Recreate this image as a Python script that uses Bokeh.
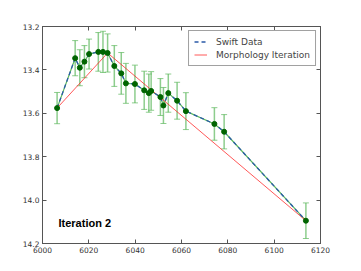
from bokeh.plotting import figure
from bokeh.models import Range1d, LinearAxis, Label, Legend, LegendItem, ColumnDataSource, FixedTicker
from bokeh.embed import file_html
from bokeh.resources import INLINE

# data
x = [6006.3, 6014.1, 6016.1, 6018.1, 6020.1, 6024.1, 6026.1, 6028.1, 6031.0, 6034.0,
     6036.0, 6039.9, 6043.9, 6045.9, 6046.9, 6050.9, 6052.2, 6054.3, 6058.1, 6061.9,
     6074.2, 6078.4, 6113.7]
mag = [13.576, 13.346, 13.390, 13.362, 13.327, 13.317, 13.317, 13.322, 13.382, 13.416,
       13.462, 13.465, 13.494, 13.507, 13.497, 13.525, 13.564, 13.507, 13.542, 13.590,
       13.649, 13.685, 14.095]
err = [0.072, 0.081, 0.083, 0.074, 0.069, 0.089, 0.095, 0.088, 0.094, 0.096,
       0.092, 0.087, 0.088, 0.088, 0.089, 0.085, 0.083, 0.088, 0.085, 0.085,
       0.075, 0.079, 0.082]
morph_x = [6006.3, 6028.1, 6113.7]
morph_y = [13.576, 13.322, 14.095]
x_ticks = [6000, 6020, 6040, 6060, 6080, 6100, 6120]
y_ticks = [13.2, 13.4, 13.6, 13.8, 14.0, 14.2]

lo = [m - e for m, e in zip(mag, err)]
hi = [m + e for m, e in zip(mag, err)]
src = ColumnDataSource(dict(x=x, mag=mag, lo=lo, hi=hi))

p = figure(width=349, height=262, output_backend="svg", toolbar_location=None,
           x_range=Range1d(6000, 6120), y_range=Range1d(14.2, 13.2),
           min_border_left=42, min_border_right=29, min_border_top=26, min_border_bottom=19)
p.background_fill_color = "white"
p.border_fill_color = "white"
p.grid.visible = False
p.outline_line_color = "#555555"

for ax in (p.xaxis[0], p.yaxis[0]):
    ax.major_tick_in = 4
    ax.major_tick_out = 0
    ax.minor_tick_line_color = None
    ax.axis_line_color = "#555555"
    ax.major_tick_line_color = "#555555"
    ax.major_label_text_font = "DejaVu Sans"
    ax.major_label_text_font_size = "7.5px"
    ax.major_label_text_color = "#333333"
    ax.major_label_standoff = 3
p.xaxis[0].ticker = FixedTicker(ticks=x_ticks)
p.yaxis[0].ticker = FixedTicker(ticks=y_ticks)
p.yaxis[0].major_label_overrides = {v: f"{v:.1f}" for v in y_ticks}

for loc, ticks in (("above", x_ticks), ("right", y_ticks)):
    a = LinearAxis(ticker=FixedTicker(ticks=ticks), major_tick_in=4, major_tick_out=0,
                   minor_tick_line_color=None, axis_line_color="#555555",
                   major_tick_line_color="#555555", major_label_text_font_size="8px",
                   major_label_overrides={t: "" for t in ticks},
                   major_label_standoff=0)
    p.add_layout(a, loc)

# error bars
p.segment(x0="x", y0="lo", x1="x", y1="hi", source=src, line_color="#5cb85c", line_alpha=0.7, line_width=1.5)
p.scatter(x="x", y="lo", source=src, marker="dash", size=6, line_color="#5cb85c", line_alpha=0.7)
p.scatter(x="x", y="hi", source=src, marker="dash", size=6, line_color="#5cb85c", line_alpha=0.7)
p.line(x="x", y="mag", source=src, line_color="#5cb85c", line_width=1.2)

red = p.line(morph_x, morph_y, line_color="#ff2020", line_alpha=0.75, line_width=1)
blue = p.line(x="x", y="mag", source=src, line_color="#2a5aa8", line_width=1.3, line_dash="4 3")
p.scatter(x="x", y="mag", source=src, size=5, fill_color="#006400", line_color="#006400")

legend = Legend(items=[LegendItem(label="Swift Data", renderers=[blue]),
                       LegendItem(label="Morphology Iteration", renderers=[red])],
                location="top_right")
legend.label_text_font = "DejaVu Sans"
legend.label_text_font_size = "9px"
legend.label_height = 11
legend.glyph_height = 11
legend.glyph_width = 13
legend.spacing = 2
legend.padding = 5
legend.margin = 4
legend.border_line_color = "#444444"
legend.border_line_width = 1
legend.label_standoff = 9
p.add_layout(legend)

p.add_layout(Label(x=6006.9, y=14.104, text="Iteration 2", text_font="Liberation Sans",
                   text_font_size="11px", text_font_style="bold", text_baseline="middle",
                   text_color="black"))

open("out.html", "w").write(file_html(p, INLINE))
